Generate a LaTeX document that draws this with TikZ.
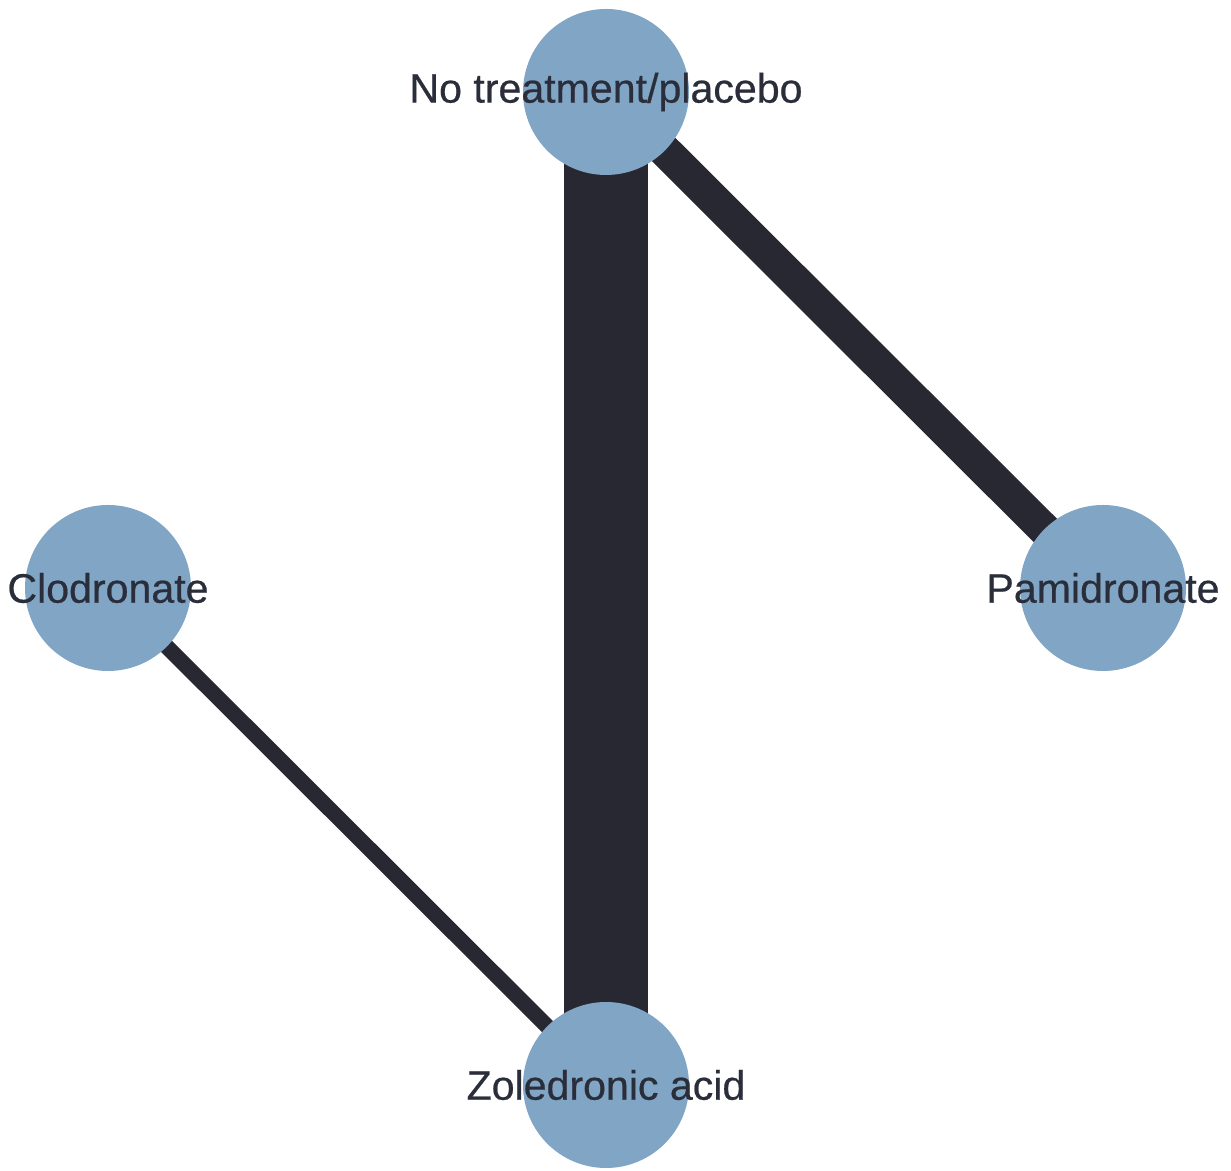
\documentclass[tikz,border=0pt]{standalone}
\usepackage{fontspec}
\setmainfont{Liberation Sans}
\newfontfamily\labelfont[FakeBold=0.5]{Liberation Sans}
\usepackage{tikz}
\usetikzlibrary{positioning}
\definecolor{NodeBlue}{HTML}{80A5C5}
\definecolor{EdgeDark}{HTML}{282833}
\definecolor{LabelDark}{HTML}{2A2D3A}

\tikzset{
  treat/.style={circle, fill=NodeBlue, minimum size=1.66cm, inner sep=0pt},
  treatlabel/.style={font=\labelfont\fontsize{11.7}{14}\selectfont, text=LabelDark},
  link/.style={draw=EdgeDark, line cap=butt}
}

\begin{document}
\begin{tikzpicture}
\useasboundingbox (0,0) rectangle (12.31,11.70);
                % Edges first so the circles sit on top
                \coordinate (pt) at (6.06,10.78);
                \coordinate (ct) at (1.08,5.82);
                \coordinate (pmt) at (11.03,5.82);
                \coordinate (zt) at (6.06,0.85);
                \draw[link, line width=0.84cm] (pt) -- (zt);
                \draw[link, line width=0.33cm] (pt) -- (pmt);
                \draw[link, line width=0.155cm] (ct) -- (zt);

                % Nodes
                \node[treat, label={[treatlabel]center:No treatment/placebo}] (placebo) at (pt) {};
                \node[treat, label={[treatlabel]center:Clodronate}] (clod) at (ct) {};
                \node[treat, label={[treatlabel]center:Pamidronate}] (pami) at (pmt) {};
                \node[treat, label={[treatlabel]center:Zoledronic acid}] (zole) at (zt) {};
\end{tikzpicture}
\end{document}
